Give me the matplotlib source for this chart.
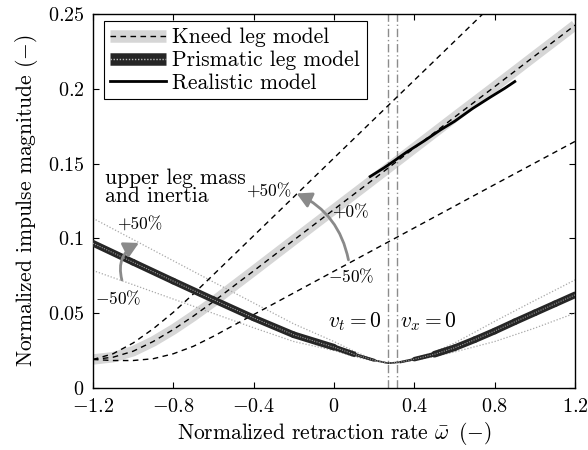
import numpy as np
import matplotlib
matplotlib.use('Agg')
import matplotlib.pyplot as plt
from matplotlib.lines import Line2D
from matplotlib.collections import LineCollection

plt.rcParams['font.family'] = ['cmr10', 'DejaVu Serif']
plt.rcParams['mathtext.fontset'] = 'cm'
plt.rcParams['axes.formatter.use_mathtext'] = True
plt.rcParams['axes.unicode_minus'] = True

# ---------------- data ----------------
# Kneed leg model (upper leg mass & inertia +0%, +50%, -50%)
kneed_x = [-1.2, -1.1, -1.0, -0.9, -0.8, -0.7, -0.6, -0.5, -0.4, -0.2, 0.0, 0.2, 0.4, 0.6, 0.8, 1.0, 1.2]
kneed_0 = [0.019, 0.0205, 0.0245, 0.031, 0.039, 0.048, 0.0577, 0.068, 0.0782, 0.0988, 0.1193,
           0.1398, 0.1604, 0.181, 0.2014, 0.222, 0.2425]
kneed_m50 = [0.019, 0.0183, 0.0183, 0.0195, 0.0228, 0.0278, 0.0345, 0.0418, 0.0490, 0.0635, 0.0780,
             0.0925, 0.1070, 0.1215, 0.1360, 0.1504, 0.1648]
kneed_p50_x = [-1.2, -1.1, -1.0, -0.9, -0.8, -0.7, -0.6, -0.5, -0.4, -0.2, 0.0, 0.2, 0.4, 0.6, 0.8]
kneed_p50 = [0.019, 0.0228, 0.0300, 0.0395, 0.0505, 0.0628, 0.0757, 0.0887, 0.1017, 0.1277, 0.1537,
             0.1797, 0.2057, 0.2317, 0.2577]

# Prismatic leg model
prism_x = [-1.2, -1.0, -0.8, -0.6, -0.4, -0.2, 0.0, 0.1, 0.2, 0.27, 0.33, 0.4, 0.5, 0.6, 0.7,
           0.8, 0.9, 1.0, 1.1, 1.2]
prism_0 = [0.0967, 0.0840, 0.0714, 0.0590, 0.0468, 0.0355, 0.0272, 0.0225, 0.0185, 0.0165, 0.0172,
           0.0192, 0.0225, 0.0268, 0.0322, 0.0380, 0.0442, 0.0502, 0.0562, 0.0622]
prism_p50 = [0.1134, 0.0992, 0.0850, 0.0708, 0.0568, 0.0428, 0.0310, 0.0245, 0.0188, 0.0165, 0.0174,
             0.0197, 0.0240, 0.0300, 0.0372, 0.0445, 0.0515, 0.0585, 0.0653, 0.0722]
prism_m50 = [0.0785, 0.0690, 0.0594, 0.0498, 0.0402, 0.0310, 0.0250, 0.0210, 0.0180, 0.0165, 0.0170,
             0.0185, 0.0210, 0.0240, 0.0275, 0.0310, 0.0355, 0.0400, 0.0450, 0.0500]

# Realistic model
real_x = [0.18, 0.25, 0.30, 0.36, 0.45, 0.53, 0.60, 0.69, 0.78, 0.85, 0.90]
real_y = [0.1413, 0.1472, 0.1518, 0.1575, 0.1652, 0.1725, 0.1782, 0.1868, 0.1945, 0.2003, 0.2048]

# singular points v_t = 0, v_x = 0
vlines_x = [0.268, 0.316]

x_ticks = [-1.2, -0.8, -0.4, 0, 0.4, 0.8, 1.2]
y_ticks = [0, 0.05, 0.1, 0.15, 0.2, 0.25]

# ---------------- figure ----------------
fig = plt.figure(figsize=(5.88, 4.5), dpi=100)
ax = fig.add_axes([0.158, 0.138, 0.820, 0.831])

band_col = '#d6d6d6'
dash = (0, (4.0, 3.2))

# kneed model
ax.plot(kneed_x, kneed_0, color=band_col, lw=7.5, solid_capstyle='butt', zorder=1)
ax.plot(kneed_x, kneed_0, color='k', lw=1.0, linestyle=dash, zorder=3)
ax.plot(kneed_x, kneed_m50, color='k', lw=1.0, linestyle=dash, zorder=3)
ax.plot(kneed_p50_x, kneed_p50, color='k', lw=1.0, linestyle=dash, zorder=3)

# prismatic model variations
ax.plot(prism_x, prism_p50, color='#a8a8a8', lw=0.9, linestyle=(0, (1, 1.5)), zorder=2)
ax.plot(prism_x, prism_m50, color='#a8a8a8', lw=0.9, linestyle=(0, (1, 1.5)), zorder=2)

# prismatic main: thick band thinning near the minimum
px = np.array(prism_x)
py = np.array(prism_0)
pts = np.column_stack([px, py]).reshape(-1, 1, 2)
segs = np.concatenate([pts[:-1], pts[1:]], axis=1)
mid = 0.5 * (px[:-1] + px[1:])
widths = np.clip(np.abs(mid - 0.27) * 18, 1.2, 4.8)
lc = LineCollection(segs, linewidths=widths, colors='#262626', capstyle='round', joinstyle='round', zorder=4)
ax.add_collection(lc)
ax.plot(prism_x, prism_0, color='#9a9a9a', lw=0.8, linestyle=(0, (1, 1.2)), zorder=5)

# realistic model
ax.plot(real_x, real_y, color='k', lw=2.0, zorder=6)

# vertical dash-dot lines
for xv in vlines_x:
    ax.axvline(xv, color='#8c8c8c', lw=1.0, linestyle=(0, (6, 2, 1, 2)), zorder=2)

# annotations
fs_ann = 12.5
ax.text(-1.14, 0.147, 'upper leg mass\nand inertia', fontsize=15.5, ha='left', va='top', linespacing=0.95)
ax.text(-0.966, 0.109, '+50%', fontsize=fs_ann, ha='center', va='center')
ax.text(-1.073, 0.0602, r'$-$50%', fontsize=fs_ann, ha='center', va='center')
ax.text(-0.324, 0.1312, '+50%', fontsize=fs_ann, ha='center', va='center')
ax.text(0.08, 0.117, '+0%', fontsize=fs_ann, ha='center', va='center')
ax.text(0.087, 0.0749, r'$-$50%', fontsize=fs_ann, ha='center', va='center')
ax.text(0.239, 0.0441, r'$v_t = 0$', fontsize=15.5, ha='right', va='center')
ax.text(0.329, 0.0441, r'$v_x = 0$', fontsize=15.5, ha='left', va='center')

arr_col = '#8a8a8a'
ax.annotate('', xy=(-0.971, 0.0969), xytext=(-1.056, 0.0722),
            arrowprops=dict(arrowstyle='-|>,head_length=0.55,head_width=0.3', color=arr_col, lw=2,
                            mutation_scale=16, connectionstyle='arc3,rad=-0.4', shrinkA=0, shrinkB=0),
            zorder=7)
ax.annotate('', xy=(-0.186, 0.130), xytext=(0.072, 0.0856),
            arrowprops=dict(arrowstyle='-|>,head_length=0.55,head_width=0.3', color=arr_col, lw=2,
                            mutation_scale=16, connectionstyle='arc3,rad=0.25', shrinkA=0, shrinkB=0),
            zorder=7)

# axes
ax.set_xlim(-1.2, 1.2)
ax.set_ylim(0, 0.25)
ax.set_xticks(x_ticks)
ax.set_yticks(y_ticks)
ax.set_xticklabels(['$-1.2$', '$-0.8$', '$-0.4$', '$0$', '$0.4$', '$0.8$', '$1.2$'])
ax.set_yticklabels(['$0$', '$0.05$', '$0.1$', '$0.15$', '$0.2$', '$0.25$'])
ax.tick_params(direction='in', top=True, right=True, labelsize=14.5, length=4, width=0.8)
ax.tick_params(axis='x', pad=7.5)
ax.tick_params(axis='y', pad=6)
for s in ax.spines.values():
    s.set_linewidth(1.0)
ax.set_xlabel(r'Normalized retraction rate $\bar{\omega}$ $\,(-)$', fontsize=15.5, labelpad=3)
ax.set_ylabel(r'Normalized impulse magnitude $(-)$', fontsize=15.5, labelpad=6)

# legend
h_kneed = (Line2D([], [], color=band_col, lw=9, solid_capstyle='butt'),
           Line2D([], [], color='k', lw=1.0, linestyle=dash))
h_prism = (Line2D([], [], color='#262626', lw=9, solid_capstyle='butt'),
           Line2D([], [], color='#bbbbbb', lw=1.0, linestyle=(0, (1, 1.2))))
h_real = Line2D([], [], color='k', lw=2.0)
leg = ax.legend([h_kneed, h_prism, h_real], ['Kneed leg model', 'Prismatic leg model', 'Realistic model'],
                loc='upper left', bbox_to_anchor=(0.022, 0.98), fontsize=15.5, frameon=True, fancybox=False,
                edgecolor='k', framealpha=1, handlelength=2.6, handletextpad=0.3, labelspacing=0.15,
                borderpad=0.3, borderaxespad=0.0)
leg.get_frame().set_linewidth(0.8)

fig.savefig('out.png', dpi=100)
